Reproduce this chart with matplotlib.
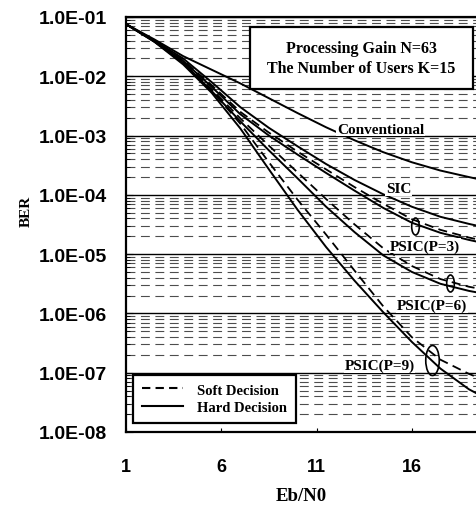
import numpy as np
import matplotlib
matplotlib.use("Agg")
import matplotlib.pyplot as plt
from matplotlib.lines import Line2D
from matplotlib.patches import Rectangle
from matplotlib.path import Path
from matplotlib.transforms import Affine2D
from matplotlib.ticker import LogLocator, FuncFormatter, NullFormatter

# ---------------- data (log10 of BER) ----------------
ebn0 = [1, 2.5, 4, 5.5, 7, 8.5, 10, 11.5, 13, 14.5, 16, 17.5, 19, 20]

conv_log = [-1.12, -1.38, -1.66, -1.89, -2.12, -2.37, -2.62, -2.86, -3.08, -3.28, -3.45, -3.59, -3.70, -3.77]
sic_log = [-1.12, -1.40, -1.70, -2.10, -2.52, -2.87, -3.18, -3.48, -3.75, -3.99, -4.20, -4.37, -4.49, -4.56]
psic3_hard_log = [-1.12, -1.41, -1.74, -2.18, -2.64, -3.00, -3.32, -3.63, -3.93, -4.22, -4.47, -4.64, -4.76, -4.83]
psic3_soft_log = [-1.12, -1.40, -1.73, -2.15, -2.60, -2.95, -3.27, -3.57, -3.87, -4.15, -4.41, -4.59, -4.72, -4.79]
psic6_hard_log = [-1.12, -1.42, -1.77, -2.25, -2.76, -3.25, -3.72, -4.20, -4.63, -5.02, -5.30, -5.50, -5.62, -5.68]
psic6_soft_log = [-1.12, -1.41, -1.76, -2.22, -2.71, -3.17, -3.62, -4.07, -4.50, -4.90, -5.20, -5.42, -5.55, -5.61]
psic9_hard_log = [-1.12, -1.42, -1.80, -2.28, -2.88, -3.57, -4.25, -4.88, -5.45, -5.98, -6.48, -6.93, -7.28, -7.45]
psic9_soft_log = [-1.12, -1.41, -1.78, -2.24, -2.80, -3.45, -4.08, -4.67, -5.28, -5.88, -6.40, -6.78, -7.02, -7.15]

xticks = [1, 6, 11, 16]

# curve labels: (text, Eb/N0, log10 BER)
curve_labels = [
    ("Conventional", 14.37, -2.89),
    ("SIC", 15.3, -3.90),
    ("PSIC(P=3)", 16.7, -4.86),
    ("PSIC(P=6)", 17.05, -5.87),
    ("PSIC(P=9)", 14.3, -6.88),
]
# small ellipses grouping hard/soft pairs: (Eb/N0, log10 BER, height px)
pair_marks = [(16.16, -4.53, 17), (18.0, -5.49, 17), (17.05, -6.79, 30)]

sans = "Liberation Sans"
serif = "Liberation Serif"

fig = plt.figure(figsize=(4.76, 5.10), dpi=100)
ax = fig.add_axes([126 / 476, 77 / 510, 350 / 476, 415 / 510])

ax.set_yscale("log")
ax.set_xlim(1, 1 + 349 / 19)
ax.set_ylim(1e-8, 1e-1)

# grid like the scanned original: solid majors, dashed minors
ax.yaxis.set_major_locator(LogLocator(base=10, numticks=12))
ax.yaxis.set_minor_locator(LogLocator(base=10, subs=np.arange(2, 10), numticks=12))
ax.yaxis.set_minor_formatter(NullFormatter())
ax.yaxis.set_major_formatter(FuncFormatter(lambda v, p: f"{v:.1E}"))
ax.grid(True, axis="y", which="major", color="black", lw=1.0)
ax.grid(True, axis="y", which="minor", color="0.3", lw=0.8, linestyle=(0, (8, 5)))
ax.set_axisbelow(True)

# ---------------- curves ----------------
solid = dict(color="black", lw=1.4, linestyle="-")
dashed = dict(color="black", lw=1.3, linestyle=(0, (5, 3)))

ax.plot(ebn0, np.power(10.0, conv_log), **solid)
ax.plot(ebn0, np.power(10.0, sic_log), **solid)
ax.plot(ebn0, np.power(10.0, psic3_hard_log), **solid)
ax.plot(ebn0, np.power(10.0, psic3_soft_log), **dashed)
ax.plot(ebn0, np.power(10.0, psic6_hard_log), **solid)
ax.plot(ebn0, np.power(10.0, psic6_soft_log), **dashed)
ax.plot(ebn0, np.power(10.0, psic9_hard_log), **solid)
ax.plot(ebn0, np.power(10.0, psic9_soft_log), **dashed)

for txt, xv, lv in curve_labels:
    ax.text(xv, 10 ** lv, txt, family=serif, weight="bold", fontsize=11,
            ha="center", va="center",
            bbox=dict(facecolor="white", edgecolor="none", pad=0.5))

ell = Path.unit_circle().transformed(Affine2D().scale(0.45, 1.0))
for xv, lv, hpx in pair_marks:
    ax.plot([xv], [10 ** lv], marker=ell, ms=hpx * 0.72, mfc="none",
            mec="black", mew=1.2, linestyle="none")

# info box
ax.add_patch(Rectangle((0.354, 0.826), 0.637, 0.149, transform=ax.transAxes,
                       facecolor="white", edgecolor="black", lw=1.6, zorder=4))
ax.text(0.673, 0.901, "Processing Gain N=63\nThe Number of Users K=15",
        transform=ax.transAxes, family=serif, weight="bold", fontsize=11.5,
        ha="center", va="center", linespacing=1.3, zorder=5)

# legend
handles = [Line2D([0], [0], color="black", lw=1.5, linestyle=(0, (4, 2.5))),
           Line2D([0], [0], color="black", lw=1.5)]
leg = ax.legend(handles, ["Soft Decision", "Hard Decision"], loc="lower left",
                bbox_to_anchor=(0.02, 0.022), prop=dict(family=serif, weight="bold", size=10.5),
                frameon=True, fancybox=False, framealpha=1, handlelength=2.8,
                handletextpad=1.0, borderpad=0.6, labelspacing=0.3, borderaxespad=0)
leg.get_frame().set_edgecolor("black")
leg.get_frame().set_linewidth(1.6)

# ---------------- axes styling ----------------
ax.set_xticks(xticks)
ax.set_xticklabels([str(t) for t in xticks])
ax.tick_params(axis="x", direction="in", length=3, pad=19)
ax.tick_params(axis="y", which="major", direction="in", length=5, pad=14)
ax.tick_params(axis="y", which="minor", direction="in", length=3)
for lab in ax.get_xticklabels():
    lab.set_family(sans); lab.set_weight("bold"); lab.set_fontsize(13)
for lab in ax.get_yticklabels():
    lab.set_family(sans); lab.set_weight("bold"); lab.set_fontsize(14)

ax.spines["right"].set_visible(False)
for s in ("left", "bottom", "top"):
    ax.spines[s].set_linewidth(1.6)

ax.set_xlabel("Eb/N0", family=serif, weight="bold", fontsize=13.5)
ax.xaxis.set_label_coords(0.5, -0.133)
ax.set_ylabel("BER", family=serif, weight="bold", fontsize=11)
ax.yaxis.set_label_coords(-0.266, 0.533)

fig.savefig("out.png", dpi=100)
